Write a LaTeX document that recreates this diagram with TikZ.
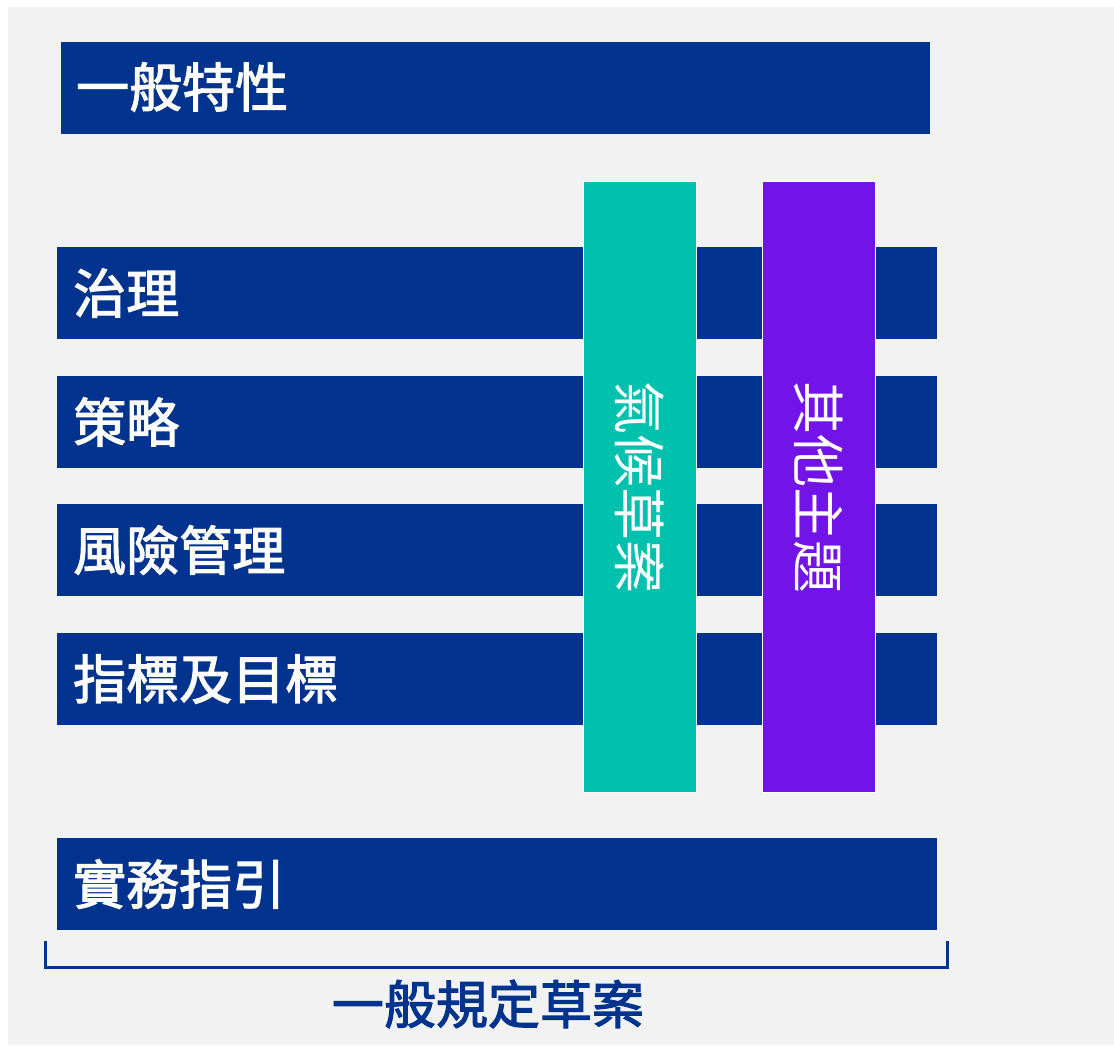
\documentclass[tikz,border=0pt]{standalone}
\usepackage{fontspec}
\newfontfamily\cjk{Noto Sans CJK TC}
\newfontfamily\cjkfb[FakeBold=2.2]{Noto Sans CJK TC}
\definecolor{navy}{RGB}{0,51,141}
\definecolor{teal1}{RGB}{0,193,174}
\definecolor{violet1}{RGB}{114,19,232}
\definecolor{bggray}{RGB}{242,242,242}
\tikzset{
  bar/.style={fill=navy, draw=none},
  col/.style={draw=white, line width=1.5pt},
  bartext/.style={anchor=west, inner sep=0pt, text=white, font=\cjkfb\fontsize{53}{53}\selectfont},
  coltext/.style={inner sep=0pt, text=white, rotate=-90, font=\cjk\fontsize{53}{53}\selectfont},
}
\begin{document}
\begin{tikzpicture}[x=1pt, y=-1pt]
\useasboundingbox (0,0) rectangle (1114,1045);
\fill[bggray] (8,7) rectangle (1114,1045);
% bars
\fill[bar] (61,42) rectangle (930,134);
\node[bartext] (t0) at (76,87) {一般特性};
\fill[bar] (57,247) rectangle (937,339);
\node[bartext] (t1) at (73,293) {治理};
\fill[bar] (57,376) rectangle (937,468);
\node[bartext] (t2) at (73,422) {策略};
\fill[bar] (57,504) rectangle (937,596);
\node[bartext] (t3) at (73,550) {風險管理};
\fill[bar] (57,633) rectangle (937,725);
\node[bartext] (t4) at (73,679) {指標及目標};
\fill[bar] (57,838) rectangle (937,930);
\node[bartext] (t5) at (73,884) {實務指引};
% columns
\draw[col, fill=teal1] (583.5,181.5) rectangle (696.5,792.5);
\node[coltext] (c1) at (640,487) {氣候草案};
\draw[col, fill=violet1] (762.5,181.5) rectangle (875.5,792.5);
\node[coltext] (c2) at (819,487) {其他主題};
% bracket
\draw[navy, line width=3pt] (45,941) -- (45,967) -- (947,967) -- (947,941);
\node[inner sep=0pt, text=navy, font=\cjkfb\fontsize{52}{52}\selectfont] (lbl) at (488,1004) {一般規定草案};
\end{tikzpicture}
\end{document}
